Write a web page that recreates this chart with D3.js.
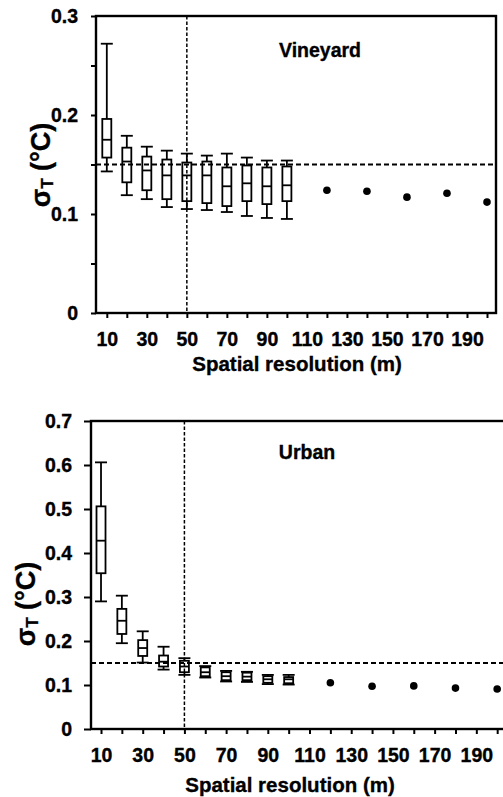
<!DOCTYPE html>
<html>
<head>
<meta charset="utf-8">
<script src="https://cdn.jsdelivr.net/npm/d3@7"></script>
<style>
  body { margin: 0; background: #fff; }
  svg { display: block; }
  text { font-family: "Liberation Sans", Arial, sans-serif; font-weight: bold; fill: #000; stroke: #000; stroke-width: 0.35px; }
</style>
</head>
<body>
<svg id="chart" width="503" height="797"></svg>
<script>
// resolutions with box plots, and the coarser ones with a single value
var boxRes = [10, 20, 30, 40, 50, 60, 70, 80, 90, 100]
var pointRes = [120, 140, 160, 180, 200]
var xTickLabels = [10, 30, 50, 70, 90, 110, 130, 150, 170, 190]
var xTicks = [10, 20, 30, 40, 50, 60, 70, 80, 90, 100, 110, 120, 130, 140, 150, 160, 170, 180, 190, 200]

// Vineyard
var vineLow = [0.143, 0.119, 0.115, 0.107, 0.105, 0.104, 0.102, 0.098, 0.096, 0.095]
var vineQ1 = [0.157, 0.132, 0.124, 0.115, 0.113, 0.111, 0.108, 0.113, 0.110, 0.113]
var vineMedian = [0.175, 0.153, 0.144, 0.139, 0.139, 0.139, 0.128, 0.131, 0.128, 0.129]
var vineQ3 = [0.196, 0.167, 0.158, 0.155, 0.152, 0.153, 0.147, 0.149, 0.147, 0.148]
var vineHigh = [0.272, 0.179, 0.168, 0.164, 0.161, 0.159, 0.161, 0.157, 0.154, 0.154]
var vinePoints = [0.124, 0.123, 0.117, 0.121, 0.112]
var vineYTicks = [0, 0.05, 0.1, 0.15, 0.2, 0.25, 0.3]

// Urban
var urbLow = [0.290, 0.195, 0.151, 0.135, 0.123, 0.117, 0.108, 0.107, 0.102, 0.101]
var urbQ1 = [0.354, 0.216, 0.166, 0.142, 0.129, 0.120, 0.111, 0.111, 0.105, 0.104]
var urbMedian = [0.428, 0.246, 0.184, 0.153, 0.142, 0.129, 0.120, 0.119, 0.113, 0.113]
var urbQ3 = [0.506, 0.273, 0.202, 0.167, 0.155, 0.140, 0.129, 0.128, 0.120, 0.118]
var urbHigh = [0.606, 0.303, 0.222, 0.187, 0.161, 0.143, 0.132, 0.130, 0.123, 0.123]
var urbPoints = [0.105, 0.097, 0.098, 0.093, 0.091]
var urbYTicks = [0, 0.1, 0.2, 0.3, 0.4, 0.5, 0.6, 0.7]

var threshold = 0.15
var chosenRes = 50

var svg = d3.select('#chart')

function drawPanel(p) {
  var x = d3.scaleLinear().domain(p.xDomain).range(p.xRange)
  var y = d3.scaleLinear().domain(p.yDomain).range(p.yRange)
  var g = svg.append('g')

  var boxes = boxRes.map(function(r, i) {
    return { r: r, low: p.low[i], q1: p.q1[i], med: p.med[i], q3: p.q3[i], high: p.high[i] }
  })
  var pts = pointRes.map(function(r, i) { return { r: r, v: p.points[i] } })

  // y axis
  var yAxis = d3.axisLeft(y)
    .tickValues(p.yTicks)
    .tickSize(p.yTickSize)
    .tickPadding(p.yPad)
    .tickFormat(function(d) {
      var k = Math.round(d * 100)
      if (k % 10 !== 0) return ''
      return k === 0 ? '0' : d.toFixed(1)
    })
  g.append('g')
    .attr('transform', 'translate(' + p.xRange[0] + ',0)')
    .call(yAxis)
    .call(function(a) {
      a.select('.domain').remove()
      a.selectAll('line').attr('stroke', '#000').attr('stroke-width', 2)
      a.selectAll('text').style('font-size', '19.5px')
    })

  // x axis
  var xAxis = d3.axisBottom(x)
    .tickValues(xTicks)
    .tickSize(5)
    .tickPadding(p.xPad)
    .tickFormat(function(d) { return xTickLabels.indexOf(d) >= 0 ? d : '' })
  g.append('g')
    .attr('transform', 'translate(0,' + p.yRange[0] + ')')
    .call(xAxis)
    .call(function(a) {
      a.select('.domain').remove()
      a.selectAll('line').attr('stroke', '#000').attr('stroke-width', 2)
      a.selectAll('text').style('font-size', '19.5px')
    })

  // frame
  g.append('rect')
    .attr('x', p.xRange[0])
    .attr('y', p.yRange[1])
    .attr('width', p.xRange[1] - p.xRange[0])
    .attr('height', p.yRange[0] - p.yRange[1])
    .attr('fill', 'none')
    .attr('stroke', '#000')
    .attr('stroke-width', 2.4)

  // whiskers
  var bw = 9, cw = 12
  var bx = g.append('g').attr('stroke', '#000').attr('stroke-width', 1.8)
  bx.selectAll('.whisker').data(boxes).enter().append('line')
    .attr('x1', function(d) { return x(d.r) })
    .attr('x2', function(d) { return x(d.r) })
    .attr('y1', function(d) { return y(d.low) })
    .attr('y2', function(d) { return y(d.high) })
  bx.selectAll('.capLow').data(boxes).enter().append('line')
    .attr('x1', function(d) { return x(d.r) - cw / 2 })
    .attr('x2', function(d) { return x(d.r) + cw / 2 })
    .attr('y1', function(d) { return y(d.low) })
    .attr('y2', function(d) { return y(d.low) })
  bx.selectAll('.capHigh').data(boxes).enter().append('line')
    .attr('x1', function(d) { return x(d.r) - cw / 2 })
    .attr('x2', function(d) { return x(d.r) + cw / 2 })
    .attr('y1', function(d) { return y(d.high) })
    .attr('y2', function(d) { return y(d.high) })
  bx.selectAll('rect').data(boxes).enter().append('rect')
    .attr('x', function(d) { return x(d.r) - bw / 2 })
    .attr('width', bw)
    .attr('y', function(d) { return y(d.q3) })
    .attr('height', function(d) { return y(d.q1) - y(d.q3) })
    .attr('fill', '#fff')
  bx.selectAll('.median').data(boxes).enter().append('line')
    .attr('x1', function(d) { return x(d.r) - bw / 2 })
    .attr('x2', function(d) { return x(d.r) + bw / 2 })
    .attr('y1', function(d) { return y(d.med) })
    .attr('y2', function(d) { return y(d.med) })

  // single points
  g.selectAll('circle').data(pts).enter().append('circle')
    .attr('cx', function(d) { return x(d.r) })
    .attr('cy', function(d) { return y(d.v) })
    .attr('r', 3.8)
    .attr('fill', '#000')

  // reference lines
  g.append('line')
    .attr('x1', p.xRange[0]).attr('x2', p.xRange[1])
    .attr('y1', y(threshold)).attr('y2', y(threshold))
    .attr('stroke', '#000').attr('stroke-width', 1.8)
    .attr('stroke-dasharray', '5,3')
  g.append('line')
    .attr('x1', x(chosenRes)).attr('x2', x(chosenRes))
    .attr('y1', p.yRange[1]).attr('y2', p.yRange[0])
    .attr('stroke', '#000').attr('stroke-width', 1.5)
    .attr('stroke-dasharray', '3.5,2')

  // panel name
  g.append('text')
    .attr('x', p.nameX).attr('y', p.nameY)
    .attr('text-anchor', 'middle')
    .style('font-size', '19.5px')
    .text(p.name)

  // axis titles
  g.append('text')
    .attr('x', p.titleX).attr('y', p.titleY)
    .attr('text-anchor', 'middle')
    .style('font-size', '20.5px')
    .text('Spatial resolution (m)')

  var yl = g.append('text')
    .attr('transform', 'translate(' + p.ylabX + ',' + p.ylabY + ') rotate(-90)')
    .attr('text-anchor', 'middle')
    .style('font-size', '27px')
  yl.append('tspan').text('σ')
  yl.append('tspan').attr('dy', 3).style('font-size', '17px').text('T')
  yl.append('tspan').attr('dy', -3).text(' (°C)')
}

drawPanel({
  xDomain: [4.6, 204.5], xRange: [96, 496],
  yDomain: [0, 0.3], yRange: [313, 16],
  yTicks: vineYTicks, yTickSize: 5, yPad: 13, xPad: 14.5,
  low: vineLow, q1: vineQ1, med: vineMedian, q3: vineQ3, high: vineHigh, points: vinePoints,
  name: 'Vineyard', nameX: 320, nameY: 57,
  titleX: 297, titleY: 371,
  ylabX: 50, ylabY: 165
})

drawPanel({
  xDomain: [5.2, 205], xRange: [91, 507.6],
  yDomain: [0, 0.7], yRange: [729, 421],
  yTicks: urbYTicks, yTickSize: 7, yPad: 12, xPad: 14,
  low: urbLow, q1: urbQ1, med: urbMedian, q3: urbQ3, high: urbHigh, points: urbPoints,
  name: 'Urban', nameX: 307, nameY: 459,
  titleX: 290, titleY: 792,
  ylabX: 35, ylabY: 604
})
</script>
</body>
</html>
